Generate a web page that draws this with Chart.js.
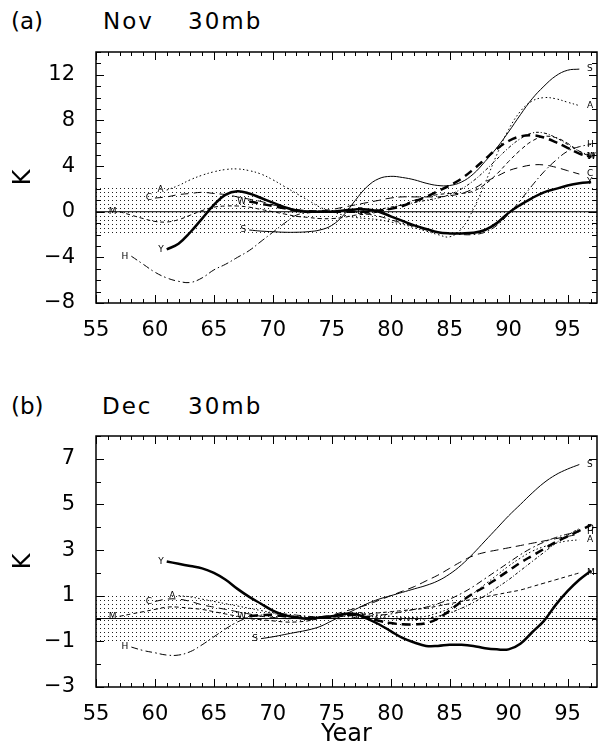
<!DOCTYPE html>
<html>
<head>
<meta charset="utf-8">
<script src="https://cdn.jsdelivr.net/npm/chart.js@4.4.1/dist/chart.umd.min.js"></script>
<style>
  body { margin: 0; background: #fff; width: 599px; height: 751px; overflow: hidden; position: relative; font-family: "DejaVu Sans", sans-serif; }
  .ttl { position: absolute; font-size: 23px; line-height: 23px; color: #000; letter-spacing: 2px; white-space: pre; }
  .box { position: absolute; left: 0; width: 599px; }
</style>
</head>
<body>
<div class="ttl" style="left:11px;top:10px;letter-spacing:0">(a)</div>
<div class="ttl" style="left:103px;top:10px">Nov</div>
<div class="ttl" style="left:188px;top:10px">30mb</div>
<div class="box" style="top:0;height:345px"><canvas id="novChart" width="599" height="345"></canvas></div>

<div class="ttl" style="left:11px;top:395px;letter-spacing:0">(b)</div>
<div class="ttl" style="left:102px;top:395px">Dec</div>
<div class="ttl" style="left:188px;top:395px">30mb</div>
<div class="box" style="top:384px;height:367px"><canvas id="decChart" width="599" height="367"></canvas></div>

<script>
// axes
const xTicks = [55, 60, 65, 70, 75, 80, 85, 90, 95];
const novYTicks = [-8, -4, 0, 4, 8, 12];
const decYTicks = [-3, -1, 1, 3, 5, 7];
const novBand = [-2.1, 2.1];
const decBand = [-1, 1];

// series letters, first year of each curve
const letters = ['Y', 'S', 'A', 'H', 'C', 'M', 'W', 'D'];
const novStart = [61, 68, 61, 58, 60, 57, 68, 78];
const decStart = [61, 69, 62, 58, 60, 57, 68, 78];

// Nov 30mb (K)
const novY = [-3.3, -2.8, -1.8, -0.6, 0.6, 1.5, 1.8, 1.6, 1.2, 0.8, 0.4, 0.1, 0, 0, 0, 0.1, 0.2, 0.2, 0, -0.4, -0.8, -1.2, -1.5, -1.8, -1.9, -1.9, -1.85, -1.6, -1.0, -0.1, 0.6, 1.2, 1.7, 2.0, 2.3, 2.5, 2.6];
const novS = [-1.6, -1.7, -1.75, -1.8, -1.8, -1.75, -1.6, -1.2, -0.3, 1.0, 2.2, 2.9, 3.1, 3.0, 2.8, 2.5, 2.3, 2.3, 2.6, 3.3, 4.4, 5.6, 7.0, 8.5, 9.9, 11.0, 11.9, 12.4, 12.5];
const novA = [1.9, 2.3, 2.8, 3.2, 3.5, 3.7, 3.75, 3.6, 3.3, 2.8, 2.2, 1.6, 1.0, 0.4, 0, -0.3, -0.5, -0.6, -0.7, -0.9, -1.1, -1.4, -1.7, -2.0, -2.2, -1.5, 0.2, 2.5, 5.0, 7.2, 8.8, 9.7, 10.0, 9.9, 9.6, 9.3];
const novH = [-3.9, -4.6, -5.3, -5.8, -6.1, -6.2, -5.8, -5.1, -4.6, -4.0, -3.4, -2.6, -1.8, -1.0, -0.3, -0.1, 0, 0.1, 0.1, 0, -0.2, -0.4, -0.7, -1.0, -1.3, -1.6, -1.8, -1.9, -2.0, -2.0, -1.8, -1.2, -0.2, 1.0, 2.3, 3.5, 4.5, 5.3, 5.7, 5.9];
const novC = [1.2, 1.3, 1.5, 1.6, 1.7, 1.6, 1.5, 1.3, 1.1, 0.9, 0.6, 0.4, 0.2, 0.1, 0.1, 0.2, 0.4, 0.6, 0.8, 1.0, 1.2, 1.3, 1.3, 1.3, 1.3, 1.4, 1.6, 2.0, 2.6, 3.1, 3.6, 3.9, 4.1, 4.1, 3.9, 3.6, 3.3];
const novM = [0, -0.3, -0.6, -0.85, -0.9, -0.7, -0.3, 0.1, 0.4, 0.5, 0.5, 0.4, 0.2, 0, -0.2, -0.4, -0.5, -0.6, -0.6, -0.5, -0.3, -0.2, 0, 0.3, 0.6, 1.0, 1.3, 1.5, 1.6, 1.6, 1.8, 2.4, 3.3, 4.4, 5.4, 6.2, 6.6, 6.5, 6.0, 5.3, 4.8];
const novW = [0.9, 0.7, 0.5, 0.3, 0.1, 0, 0, 0, 0, 0, 0, 0.1, 0.25, 0.5, 0.9, 1.3, 1.8, 2.3, 2.9, 3.7, 4.6, 5.5, 6.2, 6.6, 6.7, 6.5, 6.1, 5.6, 5.1, 4.8];
const novD = [0, 0.2, 0.4, 0.6, 0.8, 1.0, 1.2, 1.5, 2.0, 2.7, 3.6, 4.6, 5.6, 6.4, 6.9, 6.9, 6.5, 5.9, 5.3, 4.9];

// Dec 30mb (K)
const decY = [2.5, 2.4, 2.3, 2.2, 2.0, 1.7, 1.3, 0.95, 0.65, 0.35, 0.15, 0.05, 0, 0.05, 0.1, 0.2, 0.2, 0, -0.25, -0.55, -0.85, -1.05, -1.2, -1.2, -1.15, -1.15, -1.2, -1.3, -1.35, -1.35, -1.1, -0.6, -0.1, 0.6, 1.2, 1.7, 2.1];
const decS = [-0.88, -0.8, -0.7, -0.6, -0.5, -0.35, -0.1, 0.15, 0.4, 0.65, 0.85, 1.0, 1.15, 1.3, 1.45, 1.65, 1.95, 2.35, 2.85, 3.4, 3.95, 4.5, 5.0, 5.5, 5.95, 6.3, 6.55, 6.75];
const decA = [1.0, 0.95, 0.85, 0.75, 0.65, 0.55, 0.45, 0.35, 0.25, 0.15, 0.1, 0.05, 0.05, 0.1, 0.15, 0.2, 0.2, 0.15, 0.1, 0.05, 0.05, 0.1, 0.25, 0.45, 0.75, 1.1, 1.5, 1.9, 2.3, 2.65, 2.95, 3.15, 3.3, 3.4, 3.45];
const decH = [-1.25, -1.4, -1.5, -1.6, -1.6, -1.45, -1.15, -0.8, -0.45, -0.15, 0.05, 0.15, 0.2, 0.2, 0.15, 0.1, 0.05, 0, 0, 0.05, 0.1, 0.15, 0.2, 0.3, 0.4, 0.5, 0.65, 0.85, 1.1, 1.4, 1.75, 2.1, 2.45, 2.8, 3.1, 3.35, 3.55, 3.7, 3.8];
const decC = [0.75, 0.85, 0.85, 0.75, 0.6, 0.5, 0.4, 0.3, 0.2, 0.1, 0.05, 0, 0, 0, 0.05, 0.15, 0.3, 0.45, 0.6, 0.8, 1.0, 1.2, 1.4, 1.65, 1.9, 2.2, 2.5, 2.75, 2.9, 3.0, 3.1, 3.2, 3.3, 3.4, 3.5, 3.6, 3.7];
const decM = [0.1, 0.2, 0.3, 0.4, 0.5, 0.5, 0.45, 0.4, 0.3, 0.2, 0.1, 0, -0.05, -0.1, -0.15, -0.15, -0.1, 0, 0.05, 0.1, 0.15, 0.2, 0.25, 0.3, 0.35, 0.4, 0.45, 0.55, 0.65, 0.75, 0.85, 0.95, 1.05, 1.15, 1.25, 1.4, 1.55, 1.7, 1.85, 2.0];
const decW = [0.1, 0.15, 0.15, 0.1, 0.05, 0, 0.05, 0.1, 0.15, 0.15, 0.05, -0.1, -0.2, -0.25, -0.25, -0.2, 0, 0.35, 0.75, 1.1, 1.4, 1.75, 2.1, 2.45, 2.75, 3.05, 3.35, 3.6, 3.85, 4.1];
const decD = [0.1, 0.05, 0, -0.05, -0.05, 0, 0.1, 0.25, 0.45, 0.7, 1.0, 1.35, 1.7, 2.1, 2.5, 2.9, 3.3, 3.65, 3.95];

const novRight = ['Y', 'S', 'A', 'H', 'C', 'M', 'W'];
const decRight = ['S', 'H', 'A', 'M', 'D'];

const FONT = '"DejaVu Sans", sans-serif';
const lineStyle = {
  Y: { w: 2.5, dash: [] },
  S: { w: 1, dash: [] },
  A: { w: 1, dash: [1.5, 2.5] },
  H: { w: 1, dash: [7, 3, 1.5, 3] },
  C: { w: 1, dash: [8, 5] },
  M: { w: 1, dash: [4, 3] },
  W: { w: 2.5, dash: [9, 5] },
  D: { w: 1, dash: [3, 2, 1, 2] }
};

function stipple() {
  const c = document.createElement('canvas');
  c.width = 4; c.height = 4;
  const g = c.getContext('2d');
  g.fillStyle = '#222';
  g.fillRect(0, 0, 1, 1);
  return g.createPattern(c, 'repeat');
}

// frame with inward ticks on all sides
const framePlugin = {
  id: 'frame',
  afterDraw(chart, args, opts) {
    const { ctx, chartArea: a, scales: { x, y } } = chart;
    ctx.save();
    ctx.strokeStyle = '#000';
    ctx.lineWidth = 1.5;
    ctx.strokeRect(a.left, a.top, a.right - a.left, a.bottom - a.top);
    ctx.lineWidth = 1;
    ctx.beginPath();
    for (let v = Math.ceil(x.min); v <= x.max; v++) {
      const px = Math.round(x.getPixelForValue(v)) + 0.5;
      const len = v % 5 === 0 ? 8 : 4;
      ctx.moveTo(px, a.bottom); ctx.lineTo(px, a.bottom - len);
      ctx.moveTo(px, a.top); ctx.lineTo(px, a.top + len);
    }
    for (let v = Math.ceil(y.min); v <= y.max; v++) {
      const py = Math.round(y.getPixelForValue(v)) + 0.5;
      const len = opts.major.includes(v) ? 8 : 5;
      ctx.moveTo(a.left, py); ctx.lineTo(a.left + len, py);
      ctx.moveTo(a.right, py); ctx.lineTo(a.right - len, py);
    }
    ctx.stroke();
    ctx.restore();
  }
};

// series letters at curve ends
const letterPlugin = {
  id: 'letters',
  afterDatasetsDraw(chart, args, opts) {
    const { ctx, scales: { x, y } } = chart;
    ctx.save();
    ctx.font = '9px ' + FONT;
    ctx.fillStyle = '#000';
    ctx.textBaseline = 'middle';
    chart.data.datasets.forEach(ds => {
      if (!ds.letter) return;
      const p0 = ds.data[0], p1 = ds.data[ds.data.length - 1];
      ctx.textAlign = 'right';
      ctx.fillText(ds.letter, x.getPixelForValue(p0.x) - 3, y.getPixelForValue(p0.y));
      if (opts.right.includes(ds.letter)) {
        ctx.textAlign = 'left';
        ctx.fillText(ds.letter, x.getPixelForValue(x.max) - 10, y.getPixelForValue(p1.y));
      }
    });
    ctx.restore();
  }
};

function makeChart(id, series, starts, band, yMin, yMax, yTicks, rightLetters, xHeight, xTitle) {
  const pattern = stipple();
  const datasets = [
    { data: [{ x: 55, y: band[0] }, { x: 97.5, y: band[0] }], borderWidth: 0, pointRadius: 0, fill: false, order: 10 },
    { data: [{ x: 55, y: band[1] }, { x: 97.5, y: band[1] }], borderWidth: 0, pointRadius: 0, fill: '-1', backgroundColor: pattern, order: 10 },
    { data: [{ x: 55, y: 0 }, { x: 97.5, y: 0 }], borderColor: '#000', borderWidth: 1, pointRadius: 0, order: 5 }
  ];
  letters.forEach((L, i) => {
    const st = lineStyle[L];
    datasets.push({
      letter: L,
      data: series[i].map((v, k) => ({ x: starts[i] + k, y: v })),
      borderColor: '#000',
      borderWidth: st.w,
      borderDash: st.dash,
      pointRadius: 0,
      tension: 0.4,
      fill: false,
      order: L === 'Y' || L === 'W' ? 0 : 1
    });
  });

  return new Chart(document.getElementById(id), {
    type: 'line',
    data: { datasets },
    plugins: [framePlugin, letterPlugin],
    options: {
      responsive: false,
      animation: false,
      events: [],
      layout: { padding: { top: 52, left: 6, right: 2, bottom: 0 } },
      plugins: {
        legend: { display: false },
        tooltip: { enabled: false },
        filler: { drawTime: 'beforeDatasetsDraw' },
        frame: { major: yTicks },
        letters: { right: rightLetters }
      },
      scales: {
        x: {
          type: 'linear',
          min: 55,
          max: 97.5,
          afterBuildTicks: s => { s.ticks = xTicks.map(v => ({ value: v })); },
          afterFit: s => { s.height = xHeight; },
          grid: { display: false },
          border: { display: false },
          ticks: { color: '#000', font: { family: FONT, size: 21 }, padding: 7, maxRotation: 0, autoSkip: false },
          title: { display: !!xTitle, text: xTitle || '', color: '#000', font: { family: FONT, size: 24 }, padding: { top: 2, bottom: 2 } }
        },
        y: {
          min: yMin,
          max: yMax,
          afterBuildTicks: s => { s.ticks = yTicks.map(v => ({ value: v })); },
          afterFit: s => { s.width = 90; },
          grid: { display: false },
          border: { display: false },
          ticks: { color: '#000', font: { family: FONT, size: 21 }, padding: 13,
                   callback: v => (v < 0 ? '\u2212' + Math.abs(v) : String(v)) },
          title: { display: true, text: 'K', color: '#000', font: { family: FONT, size: 24 }, padding: { top: 3, bottom: 4 } }
        }
      }
    }
  });
}

makeChart('novChart', [novY, novS, novA, novH, novC, novM, novW, novD], novStart, novBand,
  -8, 14, novYTicks, novRight, 42, null);
makeChart('decChart', [decY, decS, decA, decH, decC, decM, decW, decD], decStart, decBand,
  -3, 8, decYTicks, decRight, 64, 'Year');
</script>
</body>
</html>
